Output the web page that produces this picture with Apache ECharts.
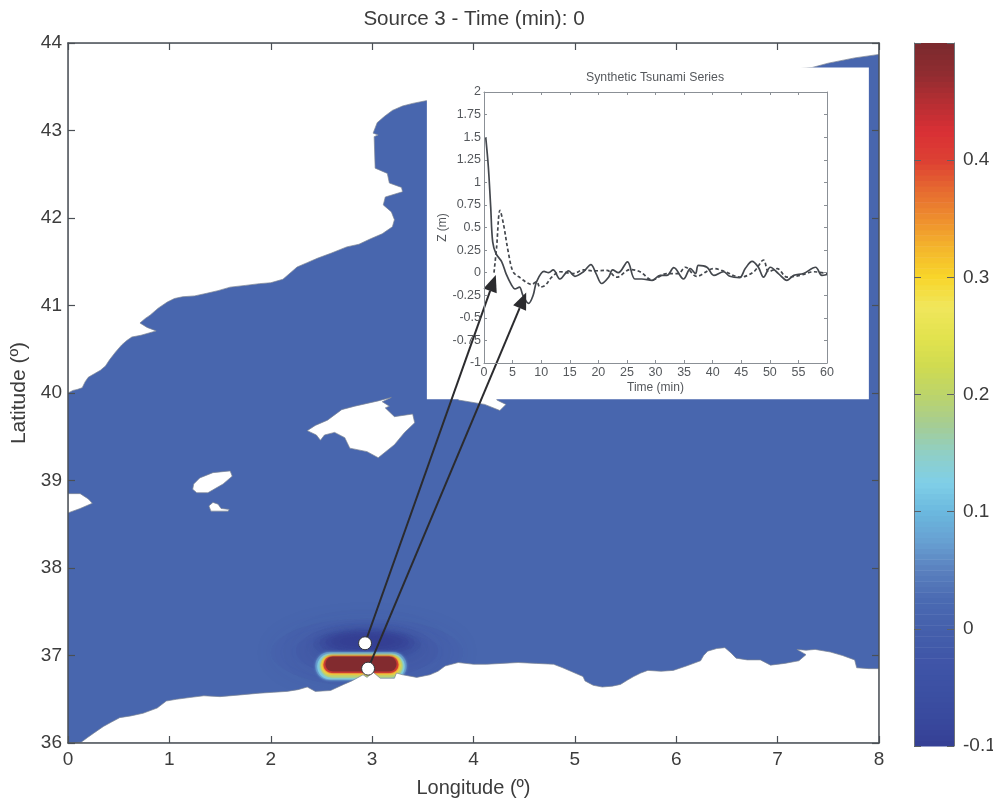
<!DOCTYPE html>
<html><head><meta charset="utf-8">
<style>html,body{margin:0;padding:0;background:#fff}#c{width:993px;height:801px}</style>
<script src="https://cdn.jsdelivr.net/npm/echarts@6/dist/echarts.min.js"></script>
</head><body><div id="c"></div>
<script>
// Coastlines, longitude / latitude in degrees
const northCoast = [[0,44],[0,40],[.05,40.03],[.09,40.04],[.14,40.06],[.17,40.13],[.20,40.18],[.26,40.22],[.32,40.26],[.37,40.31],[.41,40.38],[.47,40.47],[.53,40.55],[.58,40.60],[.63,40.64],[.72,40.66],[.87,40.71],[.78,40.75],[.71,40.80],[.76,40.85],[.81,40.89],[.89,40.97],[.98,41.04],[1.05,41.08],[1.13,41.10],[1.25,41.11],[1.37,41.14],[1.48,41.17],[1.60,41.21],[1.75,41.23],[1.89,41.25],[2.00,41.26],[2.12,41.30],[2.19,41.37],[2.26,41.44],[2.36,41.49],[2.46,41.54],[2.60,41.60],[2.75,41.67],[2.87,41.70],[2.98,41.76],[3.10,41.82],[3.20,41.90],[3.22,41.98],[3.19,42.07],[3.11,42.15],[3.13,42.24],[3.30,42.30],[3.29,42.35],[3.17,42.40],[3.15,42.51],[3.03,42.57],[3.02,42.93],[3.06,42.95],[3.01,42.97],[3.05,43.09],[3.12,43.16],[3.20,43.23],[3.30,43.28],[3.40,43.31],[3.53,43.34],[7.34,43.72],[7.50,43.77],[7.76,43.83],[8,43.87],[8,44]];
const southCoast = [[0,36],[.13,36.01],[.19,36.06],[.25,36.11],[.35,36.19],[.43,36.24],[.51,36.29],[.62,36.31],[.74,36.34],[.88,36.40],[.97,36.48],[1.07,36.50],[1.20,36.52],[1.34,36.54],[1.50,36.53],[1.70,36.55],[1.89,36.57],[2.03,36.58],[2.16,36.59],[2.27,36.61],[2.36,36.64],[2.44,36.59],[2.59,36.60],[2.72,36.67],[2.80,36.71],[2.88,36.76],[2.91,36.78],[2.95,36.75],[3.01,36.81],[3.08,36.74],[3.22,36.74],[3.24,36.80],[3.30,36.78],[3.44,36.75],[3.57,36.78],[3.65,36.82],[3.72,36.88],[3.85,36.92],[4.00,36.90],[4.13,36.90],[4.28,36.91],[4.44,36.92],[4.62,36.91],[4.79,36.90],[4.88,36.86],[4.96,36.82],[5.08,36.76],[5.10,36.71],[5.18,36.66],[5.27,36.64],[5.37,36.65],[5.45,36.67],[5.52,36.72],[5.58,36.76],[5.65,36.80],[5.72,36.83],[5.85,36.82],[5.97,36.83],[6.10,36.88],[6.24,36.94],[6.27,37.00],[6.31,37.05],[6.40,37.08],[6.48,37.09],[6.54,37.03],[6.59,36.97],[6.70,36.95],[6.83,36.95],[6.93,36.89],[7.07,36.91],[7.21,36.94],[7.28,37.01],[7.19,37.07],[7.28,37.06],[7.37,37.07],[7.52,37.04],[7.64,37.00],[7.76,36.95],[7.78,36.86],[7.90,36.85],[8,36.85],[8,36]];
const mallorca = [[2.36,39.57],[2.44,39.63],[2.56,39.69],[2.70,39.81],[2.83,39.85],[3.06,39.91],[3.19,39.95],[3.10,39.90],[3.17,39.85],[3.13,39.83],[3.22,39.73],[3.40,39.76],[3.42,39.66],[3.32,39.55],[3.22,39.41],[3.06,39.26],[2.95,39.33],[2.78,39.37],[2.73,39.49],[2.63,39.55],[2.53,39.52],[2.49,39.46],[2.45,39.52]];
const menorca = [[3.85,40.0],[3.85,39.92],[4.11,39.87],[4.26,39.80],[4.32,39.87],[4.23,39.92],[4.23,40.0]];
const ibiza = [[1.24,38.96],[1.30,39.03],[1.43,39.09],[1.60,39.11],[1.62,39.05],[1.53,38.96],[1.38,38.86],[1.27,38.86],[1.23,38.90]];
const formentera = [[1.39,38.71],[1.43,38.75],[1.48,38.73],[1.51,38.68],[1.59,38.67],[1.58,38.65],[1.50,38.65],[1.41,38.65]];
const capeNao = [[0,38.85],[.12,38.85],[.20,38.79],[.24,38.74],[.12,38.68],[0,38.63]];
const landMasses = [northCoast, southCoast, mallorca, menorca, ibiza, formentera, capeNao];

// Inset paper patch: [lonMin, lonMax, latMin, latMax]
const insetPatch = [3.54, 7.90, 39.93, 43.72];

// Depression beside the source, nested soft ellipses: [lonMin, lonMax, latMin, latMax, value (m), strength, blur]
const sourceHalos = [
  [2.00,3.90,36.65,37.42,-0.1,0.05,24],
  [2.25,3.65,36.75,37.36,-0.1,0.07,20],
  [2.42,3.48,36.95,37.31,-0.1,0.12,10],
  [2.48,3.42,37.00,37.29,-0.1,0.16,8],
  [2.54,3.36,37.04,37.27,-0.1,0.22,6],
  [2.60,3.30,37.07,37.25,-0.1,0.28,6],
  [2.68,3.22,37.10,37.22,-0.1,0.34,6]
];
// Initial sea surface, nested levels: [lonMin, lonMax, latMin, latMax, value (m)]
const sourceLevels = [
  [2.44,3.34,36.72,37.04,0.06],
  [2.46,3.32,36.73,37.02,0.12],
  [2.49,3.30,36.75,37.01,0.19],
  [2.50,3.28,36.78,37.00,0.29],
  [2.52,3.26,36.80,36.99,0.40],
  [2.54,3.24,36.82,36.985,0.49]
];

// Colour bar stops from -0.1 to 0.5, evenly spaced
const colorStops = ['#353f94','#394a9e','#3c50a3','#4056a8','#4560ac','#4a6ab2','#5a80be','#67a0d2','#6bb8de','#80cfe8','#8fcfc6','#a6cd92','#bcd46a','#d0db50','#e3e34e','#f0e65c','#f8d62a','#f4b62c','#ee8e2e','#e66a30','#dd4033','#d93035','#b52e33','#8f2c30','#7a2a2e'];
const colorMin = -0.1;
const colorMax = 0.5;
const colorBands = 128;

// Tide gauge markers and the arrows to the inset
const gaugePoints = [[2.93,37.14],[2.96,36.85]];
const arrowTips = [[4.22,41.35],[4.52,41.15]];

// Synthetic tsunami series: [time (min), z (m)]
const gaugeSolid = [[.3,1.5],[.76,1.17],[1.17,.73],[1.52,.34],[2.1,.21],[3.1,.12],[3.85,-.01],[4.85,-.14],[5.4,-.18],[6.2,-.16],[6.8,-.25],[7.8,-.34],[8.6,-.25],[9.2,-.10],[10.5,.015],[11.3,0],[12.1,.03],[13.3,-.07],[14.8,.02],[15.9,-.04],[17.4,.01],[18.7,.09],[19.6,-.01],[20.6,-.12],[21.8,-.05],[22.5,.03],[23.5,0],[25.1,.12],[26.4,-.07],[27.6,-.07],[29.4,-.085],[30.8,-.03],[32,-.03],[33.2,.055],[34.9,-.07],[36.1,.045],[37,-.01],[37.5,.08],[39,.06],[40.2,-.03],[41.9,.01],[43,-.04],[44.7,-.055],[45.7,.045],[46.9,.125],[48,.06],[48.9,-.05],[50.1,.06],[51.5,-.01],[53,-.085],[54.2,-.03],[55.9,-.01],[58,.06],[59.1,-.03],[60,-.02]];
const gaugeDashed = [[1.75,0],[2.2,.28],[2.8,.69],[3.4,.54],[4.3,.21],[5.1,.01],[6.3,-.055],[8.35,-.13],[9.2,-.10],[9.8,-.16],[10.7,-.14],[11.85,-.05],[13.3,.01],[15.6,-.01],[17.4,.03],[19.1,.02],[21.5,.025],[23.2,-.05],[25.6,.035],[27.3,.01],[29.4,-.08],[32,-.01],[34,-.01],[35.2,.06],[37.2,-.04],[40.2,.045],[42.2,.01],[44.8,-.05],[47.2,.01],[48.9,.14],[49.8,.01],[51.3,.045],[53,-.05],[55.3,-.03],[57.7,.01],[60,-.01]];

const FONT = '"Liberation Sans", Arial, sans-serif';
const TXT = '#3c3c3c', AX = '#4a4f55', INK = '#43474d', INSET_TXT = '#55585c', ARROW = '#2b2b2e';
const colorOf = v => echarts.color.lerp((v - colorMin) / (colorMax - colorMin), colorStops);

const cbBands = [];
for (let i = 0; i < colorBands; i++) {
  const a = colorMin + (colorMax - colorMin) * i / colorBands;
  const b = colorMin + (colorMax - colorMin) * (i + 1) / colorBands;
  cbBands.push([a, b]);
}

function polyRender(list, style) {
  return (params, api) => ({
    type: 'polygon',
    shape: { points: list[params.dataIndex].map(p => api.coord(p)) },
    style: style
  });
}
function idx(list) { return list.map((_, i) => [i, 0]); }

const mainAxisBase = {
  gridIndex: 0, type: 'value', z: 8, splitLine: { show: false },
  axisLine: { show: true, onZero: false, lineStyle: { color: AX, width: 1.5 } },
  axisTick: { show: true, inside: true, length: 7, lineStyle: { color: AX, width: 1.2 } }
};
const insetAxisBase = {
  gridIndex: 1, type: 'value', z: 8, splitLine: { show: false },
  axisLine: { show: true, onZero: false, lineStyle: { color: '#8b9096', width: 1 } },
  axisTick: { show: true, inside: true, length: 3, lineStyle: { color: '#8b9096', width: 1 } }
};
const mainLabel = { color: TXT, fontSize: 19, fontFamily: FONT };
const insetLabel = { color: INSET_TXT, fontSize: 12.5, fontFamily: FONT };
const cbAxisBase = {
  gridIndex: 2, type: 'value', min: -0.1, max: 0.5, interval: 0.1, z: 8, splitLine: { show: false },
  axisLine: { show: true, onZero: false, lineStyle: { color: '#6e7378', width: 1 } },
  axisTick: { show: true, inside: true, length: 7, lineStyle: { color: '#5c6166', width: 1 } }
};

const option = {
  animation: false,
  backgroundColor: '#ffffff',
  textStyle: { fontFamily: FONT },
  title: [
    { text: 'Source 3 - Time (min): 0', left: 474, top: 9, textAlign: 'center',
      textStyle: { color: TXT, fontSize: 20.6, fontWeight: 'normal', fontFamily: FONT }, padding: 0 },
    { text: 'Synthetic Tsunami Series', left: 655, top: 72, textAlign: 'center',
      textStyle: { color: INSET_TXT, fontSize: 12.3, fontWeight: 'normal', fontFamily: FONT }, padding: 0 }
  ],
  grid: [
    { left: 68, top: 43, width: 811, height: 700, show: true, backgroundColor: '#4866ae', borderWidth: 0, outerBoundsMode: 'none' },
    { left: 484, top: 92, width: 343, height: 271, show: false, outerBoundsMode: 'none' },
    { left: 914, top: 43, width: 40, height: 703, show: false, outerBoundsMode: 'none' }
  ],
  xAxis: [
    Object.assign({}, mainAxisBase, { min: 0, max: 8, interval: 1, position: 'bottom',
      name: 'Longitude (º)', nameLocation: 'middle', nameGap: 35,
      nameTextStyle: { color: TXT, fontSize: 20, fontFamily: FONT },
      axisLabel: Object.assign({ margin: 7 }, mainLabel) }),
    Object.assign({}, mainAxisBase, { min: 0, max: 8, interval: 1, position: 'top', axisLabel: { show: false } }),
    Object.assign({}, insetAxisBase, { min: 0, max: 60, interval: 5, position: 'bottom',
      name: 'Time (min)', nameLocation: 'middle', nameGap: 19,
      nameTextStyle: { color: INSET_TXT, fontSize: 12, fontFamily: FONT },
      axisLabel: Object.assign({ margin: 3 }, insetLabel) }),
    Object.assign({}, insetAxisBase, { min: 0, max: 60, interval: 5, position: 'top', axisLabel: { show: false } }),
    { gridIndex: 2, type: 'value', min: 0, max: 1, show: false }
  ],
  yAxis: [
    Object.assign({}, mainAxisBase, { min: 36, max: 44, interval: 1, position: 'left',
      name: 'Latitude (º)', nameLocation: 'middle', nameGap: 36, nameRotate: 90,
      nameTextStyle: { color: TXT, fontSize: 21, fontFamily: FONT },
      axisLabel: Object.assign({ margin: 6 }, mainLabel) }),
    Object.assign({}, mainAxisBase, { min: 36, max: 44, interval: 1, position: 'right', axisLabel: { show: false } }),
    Object.assign({}, insetAxisBase, { min: -1, max: 2, interval: 0.25, position: 'left',
      name: 'Z (m)', nameLocation: 'middle', nameGap: 34, nameRotate: 90,
      nameTextStyle: { color: INSET_TXT, fontSize: 12, fontFamily: FONT },
      axisLabel: Object.assign({ margin: 3 }, insetLabel) }),
    Object.assign({}, insetAxisBase, { min: -1, max: 2, interval: 0.25, position: 'right', axisLabel: { show: false } }),
    Object.assign({}, cbAxisBase, { position: 'right',
      axisLabel: Object.assign({ margin: 9, formatter: v => v > 0.45 ? '' : String(+v.toFixed(1)) }, mainLabel) }),
    Object.assign({}, cbAxisBase, { position: 'left', axisLabel: { show: false } })
  ],
  series: [
    { name: 'Depression', type: 'custom', xAxisIndex: 0, yAxisIndex: 0, z: 1, silent: true,
      data: idx(sourceHalos),
      renderItem: (params, api) => {
        const s = sourceHalos[params.dataIndex];
        const p0 = api.coord([s[0], s[3]]), p1 = api.coord([s[1], s[2]]);
        return { type: 'ellipse',
          shape: { cx: (p0[0] + p1[0]) / 2, cy: (p0[1] + p1[1]) / 2, rx: (p1[0] - p0[0]) / 2, ry: (p1[1] - p0[1]) / 2 },
          style: { fill: colorOf(s[4]), opacity: s[5], shadowColor: colorOf(s[4]), shadowBlur: s[6] } };
      } },
    { name: 'Source', type: 'custom', xAxisIndex: 0, yAxisIndex: 0, z: 1, silent: true, clip: true,
      data: idx(sourceLevels),
      renderItem: (params, api) => {
        const s = sourceLevels[params.dataIndex];
        const p0 = api.coord([s[0], s[3]]), p1 = api.coord([s[1], s[2]]);
        const w = p1[0] - p0[0], h = p1[1] - p0[1];
        const c = colorOf(s[4]);
        return { type: 'rect', shape: { x: p0[0], y: p0[1], width: w, height: h, r: h / 2 },
          style: { fill: c, shadowColor: c, shadowBlur: 3 } };
      } },
    { name: 'Land', type: 'custom', xAxisIndex: 0, yAxisIndex: 0, z: 2, silent: true, clip: true,
      data: idx(landMasses),
      renderItem: polyRender(landMasses, { fill: '#ffffff', stroke: '#7d8594', lineWidth: 0.7 }) },
    { name: 'Inset paper', type: 'custom', xAxisIndex: 0, yAxisIndex: 0, z: 3, silent: true,
      data: [[0, 0]],
      renderItem: (params, api) => {
        const p0 = api.coord([insetPatch[0], insetPatch[3]]), p1 = api.coord([insetPatch[1], insetPatch[2]]);
        return { type: 'rect', shape: { x: p0[0], y: p0[1], width: p1[0] - p0[0], height: p1[1] - p0[1] }, style: { fill: '#ffffff' } };
      } },
    { name: 'Gauge A', type: 'line', xAxisIndex: 2, yAxisIndex: 2, z: 6, data: gaugeSolid, smooth: 0.35,
      showSymbol: false, lineStyle: { color: INK, width: 1.7 } },
    { name: 'Gauge B', type: 'line', xAxisIndex: 2, yAxisIndex: 2, z: 6, data: gaugeDashed, smooth: 0.35,
      showSymbol: false, lineStyle: { color: INK, width: 1.7, type: [3.5, 2.5] } },
    { name: 'Arrows', type: 'custom', xAxisIndex: 0, yAxisIndex: 0, z: 7, silent: true, clip: false,
      data: idx(gaugePoints),
      renderItem: (params, api) => {
        const a = api.coord(gaugePoints[params.dataIndex]), b = api.coord(arrowTips[params.dataIndex]);
        const dx = b[0] - a[0], dy = b[1] - a[1], L = Math.hypot(dx, dy);
        const ux = dx / L, uy = dy / L, headLen = 17, headHalf = 7;
        const bx = b[0] - ux * headLen, by = b[1] - uy * headLen;
        return { type: 'group', children: [
          { type: 'line', shape: { x1: a[0], y1: a[1], x2: bx, y2: by }, style: { stroke: ARROW, lineWidth: 2 } },
          { type: 'polygon', shape: { points: [b, [bx - uy * headHalf, by + ux * headHalf], [bx + uy * headHalf, by - ux * headHalf]] }, style: { fill: ARROW } }
        ] };
      } },
    { name: 'Gauges', type: 'scatter', xAxisIndex: 0, yAxisIndex: 0, z: 7, silent: true, data: gaugePoints,
      symbol: 'circle', symbolSize: 13, itemStyle: { color: '#ffffff', opacity: 1, borderColor: '#33363b', borderWidth: 1 } },
    { name: 'Colour bar', type: 'custom', xAxisIndex: 4, yAxisIndex: 4, z: 2, silent: true,
      data: idx(cbBands),
      renderItem: (params, api) => {
        const b = cbBands[params.dataIndex];
        const p0 = api.coord([0, b[1]]), p1 = api.coord([1, b[0]]);
        return { type: 'rect', shape: { x: p0[0], y: p0[1], width: p1[0] - p0[0], height: p1[1] - p0[1] + 0.6 },
          style: { fill: colorOf((b[0] + b[1]) / 2) } };
      } }
  ]
};
echarts.init(document.getElementById('c'), null, { renderer: 'canvas' }).setOption(option);
</script>
</body></html>
